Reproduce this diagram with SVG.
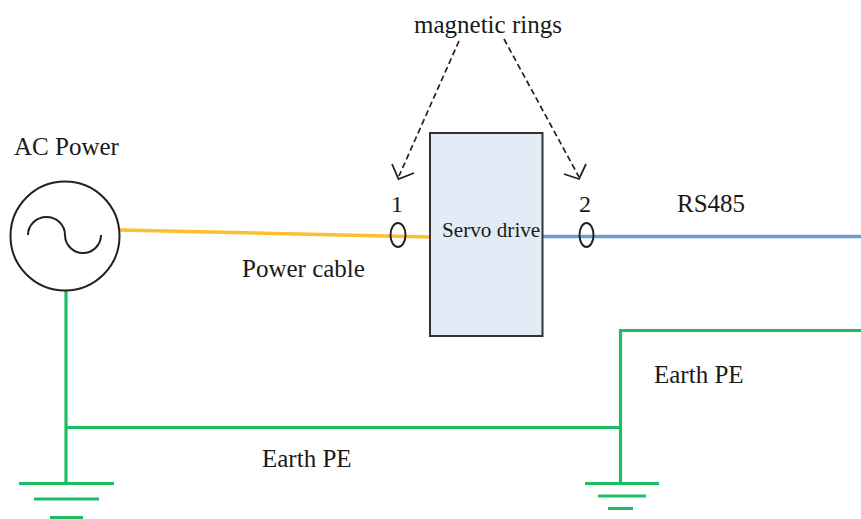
<svg xmlns="http://www.w3.org/2000/svg" width="861" height="519" viewBox="0 0 861 519">
<style>
text{font-family:"Liberation Serif","Times New Roman",serif;fill:#1a1a1a;font-size:25px}
.g{stroke:#1fbd63;stroke-width:3.2;fill:none}
.k{stroke:#222;stroke-width:2;fill:none}
.d{stroke:#222;stroke-width:1.7;fill:none;stroke-dasharray:6 3.5}
.h{stroke:#222;stroke-width:1.8;fill:none}
</style>
<rect width="861" height="519" fill="#fff"/>
<g id="connectors">
<path d="M120 230L430 237" stroke="#fdbf2d" stroke-width="3.600" fill="none"/>
<path d="M543 236.500H861" stroke="#6f9bd8" stroke-width="3.600" fill="none"/>
<path class="g" d="M66 290V483M66 427.500H621M620.500 483V330.500H861"/>
<path class="d" d="M459 41L399 176"/>
<path class="h" d="M392 164L398.500 179L414 173"/>
<path class="d" d="M504 39L579 177"/>
<path class="h" d="M564 174L579 179L586 164"/>
</g>
<g id="ac-power">
<circle class="k" cx="65" cy="236" r="54.500"/>
<path class="k" d="M28 235A18.500 18 0 0 1 65 235A18 18 0 0 0 101 235"/>
<text x="14" y="155">AC Power</text>
</g>
<g id="servo-drive">
<rect x="430" y="133" width="112.500" height="203" fill="#e3ebf6" stroke="#333" stroke-width="2"/>
<text x="442" y="237" style="font-size:21.200px">Servo drive</text>
</g>
<g id="ring-1">
<ellipse class="k" cx="398" cy="235" rx="7.500" ry="12"/>
<text x="391" y="212" style="font-size:24px">1</text>
</g>
<g id="ring-2">
<ellipse class="k" cx="586.500" cy="235" rx="7" ry="12"/>
<text x="579" y="212" style="font-size:24px">2</text>
</g>
<g id="ground-left">
<path class="g" d="M19 483.500H114M34 499H99M50 517.500H83"/>
</g>
<g id="ground-right">
<path class="g" d="M585 483.500H659M598 496H646M608 508.500H633"/>
</g>
<g id="labels">
<text x="414" y="33">magnetic rings</text>
<text x="677" y="212">RS485</text>
<text x="242" y="277">Power cable</text>
<text x="654" y="383">Earth PE</text>
<text x="262" y="467">Earth PE</text>
</g>
</svg>
